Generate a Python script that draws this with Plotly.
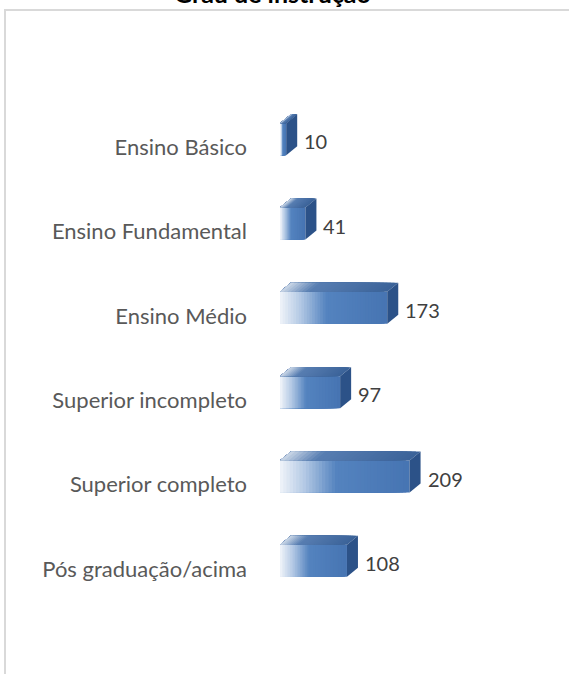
import plotly.graph_objects as go

# data
categorias = ["Ensino Básico", "Ensino Fundamental", "Ensino Médio",
              "Superior incompleto", "Superior completo", "Pós graduação/acima"]
valores = [10, 41, 173, 97, 209, 108]
titulo = "Grau de instrução"

# layout geometry (pixels)
W, H = 569, 674
ML, MR, MT, MB = 280, 10, 105, 63
XMAX = 450
PLOT_W = W - ML - MR
PLOT_H = H - MT - MB
N_CAT = len(categorias)
PX_PER_UNIT = PLOT_W / XMAX
PX_PER_CAT = PLOT_H / N_CAT

BAR_W = 0.38
BAR_OFF = -0.285
DEPTH_X = 11 / PX_PER_UNIT      # depth of the 3d box in data units
DEPTH_Y = 9 / PX_PER_CAT

FONT = "Lato"


def mix(stops, t):
    for (t0, c0), (t1, c1) in zip(stops, stops[1:]):
        if t <= t1:
            f = (t - t0) / (t1 - t0) if t1 > t0 else 0
            return "rgb(%d,%d,%d)" % tuple(round(a + (b - a) * f) for a, b in zip(c0, c1))
    return "rgb(%d,%d,%d)" % stops[-1][1]


front_stops = [(0.0, (236, 241, 248)), (0.18, (178, 200, 228)),
               (0.42, (84, 131, 191)), (1.0, (70, 116, 178))]
top_stops = [(0.0, (196, 210, 228)), (0.25, (88, 126, 178)),
             (1.0, (58, 98, 152))]
side_color = "rgb(44,82,136)"

fig = go.Figure()

# front face: overlaid bars, each shorter one lighter -> gradient from the left
N = 40
pos = list(range(N_CAT))
for k in range(N):
    frac = (N - k) / N
    fig.add_trace(go.Bar(
        y=pos, x=[v * frac for v in valores], orientation="h",
        width=BAR_W, offset=BAR_OFF,
        marker=dict(color=mix(front_stops, (N - k - 1) / N), line=dict(width=0)),
        hoverinfo="skip", showlegend=False))

shapes = []
for i, v in enumerate(valores):
    y0 = i + BAR_OFF
    y1 = y0 + BAR_W
    # top face with a few steps of gradient
    M = 30
    for k in range(M):
        frac = (M - k) / M
        xe = v * frac
        shapes.append(dict(
            type="path", xref="x", yref="y", layer="above", line=dict(width=0),
            fillcolor=mix(top_stops, (M - k - 1) / M),
            path="M 0,{a} L {dx},{b} L {xe2},{b} L {xe},{a} Z".format(
                a=y0, b=y0 - DEPTH_Y, dx=DEPTH_X, xe=xe, xe2=xe + DEPTH_X)))
    # side face
    shapes.append(dict(
        type="path", xref="x", yref="y", layer="above", line=dict(width=0),
        fillcolor=side_color,
        path="M {x},{a} L {x2},{b} L {x2},{c} L {x},{d} Z".format(
            x=v, x2=v + DEPTH_X, a=y0, b=y0 - DEPTH_Y, c=y1 - DEPTH_Y, d=y1)))

# chart frame (only left and top edges are inside the picture)
shapes.append(dict(
    type="rect", xref="paper", yref="paper", layer="below",
    x0=(5 - ML) / PLOT_W, x1=(W + 20 - ML) / PLOT_W,
    y0=(H - MB - (H + 20)) / PLOT_H, y1=(H - MB - 10) / PLOT_H,
    line=dict(color="#d9d9d9", width=2), fillcolor="rgba(0,0,0,0)"))

annotations = []
for i, v in enumerate(valores):
    annotations.append(dict(
        x=v, y=i, xref="x", yref="y", text=str(v), showarrow=False,
        xanchor="left", yanchor="middle", xshift=DEPTH_X * PX_PER_UNIT + 5, yshift=6,
        font=dict(family=FONT, size=20, color="#404040")))

# title sits mostly above the top edge, as in the original crop
annotations.append(dict(
    x=(272 - ML) / PLOT_W, y=(H - MB + 7) / PLOT_H, xref="paper", yref="paper",
    text="<b>" + titulo + "</b>", showarrow=False, xanchor="center", yanchor="middle",
    font=dict(family=FONT, size=25, color="#000000")))

fig.update_layout(
    width=W, height=H,
    margin=dict(l=ML, r=MR, t=MT, b=MB),
    barmode="overlay",
    paper_bgcolor="white", plot_bgcolor="white",
    xaxis=dict(range=[0, XMAX], visible=False),
    yaxis=dict(range=[N_CAT - 0.5, -0.5], tickmode="array", tickvals=pos,
               ticktext=categorias, showgrid=False, zeroline=False, showline=False,
               ticks="", ticklabelstandoff=32,
               tickfont=dict(family=FONT, size=22, color="#595959")),
    shapes=shapes, annotations=annotations,
)

fig.write_html("out.html", config={"displayModeBar": False},
               post_script="document.body.style.margin='0';")
